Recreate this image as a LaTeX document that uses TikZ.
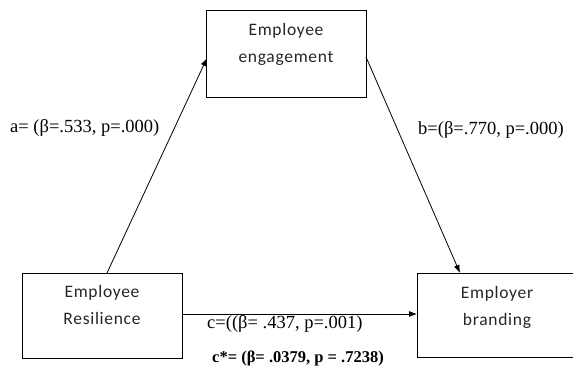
\documentclass[tikz,border=0pt]{standalone}
\usepackage{fontspec}
\setmainfont{Liberation Serif}
\newfontfamily\boxfont[LetterSpace=4]{Carlito}
\usetikzlibrary{arrows.meta}
\begin{document}
\begin{tikzpicture}[x=1pt,y=-1pt,
  boxnode/.style={draw,line width=0.9pt,minimum width=160pt,anchor=north west,inner sep=0pt},
  boxtext/.style={font=\boxfont\fontsize{17.5}{27}\selectfont,align=center,anchor=north,inner sep=0pt,text=black!85},
  lbl/.style={font=\fontsize{18.5}{22}\selectfont,inner sep=0pt},
  conn/.style={line width=0.8pt,-{Latex[length=8pt,width=6pt]}}]
\useasboundingbox (0,0) rectangle (573,369);
\clip (0,0) rectangle (573,369);
\node[boxnode,minimum height=87pt] (eng) at (206,10) {};
\node[boxtext] (engt) at (286,23) {Employee\\engagement};
\node[boxnode,minimum height=85pt] (res) at (22,273) {};
\node[boxtext] (rest) at (102,285) {Employee\\Resilience};
\node[boxnode,minimum height=84pt] (brd) at (417,273) {};
\node[boxtext] (brdt) at (497,286) {Employer\\branding};
\coordinate (aS) at (107,273);
\coordinate (aE) at (207,58);
\coordinate (bS) at (366,57);
\coordinate (bE) at (460,273);
\coordinate (cS) at (182,314);
\coordinate (cE) at (417,314);
\draw[conn] (aS) -- (aE);
\draw[conn] (bS) -- (bE);
\draw[conn] (cS) -- (cE);
\node[lbl,anchor=west] (la) at (10,128) {a= (β=.533, p=.000)};
\node[lbl,anchor=west] (lb) at (418,130) {b=(β=.770, p=.000)};
\node[lbl,anchor=west] (lc) at (207,324) {c=((β= .437, p=.001)};
\node[lbl,anchor=west,font=\bfseries\fontsize{16.5}{20}\selectfont] (lcs) at (212,358) {c*= (β= .0379, p = .7238)};
\end{tikzpicture}
\end{document}
